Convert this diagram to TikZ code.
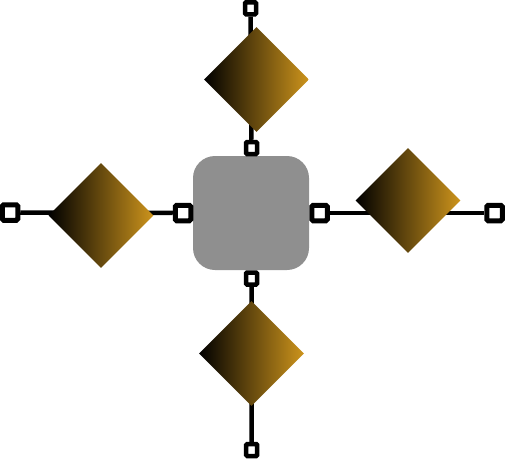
\documentclass[tikz,border=0pt]{standalone}
\usetikzlibrary{shapes.geometric,backgrounds}
\definecolor{boxgray}{RGB}{143,143,143}
\definecolor{goldend}{RGB}{205,148,28}
\begin{document}
\begin{tikzpicture}[x=1pt,y=-1pt,
  coreblock/.style={rectangle,rounded corners=22pt,fill=boxgray,minimum width=116pt,minimum height=114pt,inner sep=0pt},
  gem/.style={diamond,minimum width=105pt,minimum height=105pt,inner sep=0pt,left color=black,right color=goldend,shading angle=90},
  hport/.style={rectangle,rounded corners=1.5pt,draw=black,line width=5pt,fill=white,minimum width=15.5pt,minimum height=15.5pt,inner sep=0pt},
  vport/.style={rectangle,rounded corners=1pt,draw=black,line width=4.5pt,fill=white,minimum width=11pt,minimum height=12pt,inner sep=0pt},
  wire/.style={line width=4.5pt,draw=black}]
\useasboundingbox (0,0) rectangle (505,459);
% core
\node[coreblock] (core) at (251,213) {};
% ports on core
\node[vport] (pt) at (251.5,148) {};
\node[vport] (pb) at (251.5,278.5) {};
\node[hport] (pl) at (183,213) {};
\node[hport] (pr) at (319.5,213) {};
% end ports
\node[vport] (et) at (250.5,8.3) {};
\node[vport] (eb) at (251.7,450) {};
\node[hport] (el) at (10,212.5) {};
\node[hport] (er) at (494.5,213) {};
% diamonds
\node[gem] (dt) at (256.5,79.5) {};
\node[gem] (db) at (251.5,353.5) {};
\node[gem] (dl) at (101,215.5) {};
\node[gem] (dr) at (408,200.5) {};
\begin{scope}[on background layer]
\draw[wire] (et) -- (pt);
\draw[wire] (pb) -- (eb);
\draw[wire] (el) -- (pl);
\draw[wire] (pr) -- (er);
\end{scope}
\end{tikzpicture}
\end{document}
